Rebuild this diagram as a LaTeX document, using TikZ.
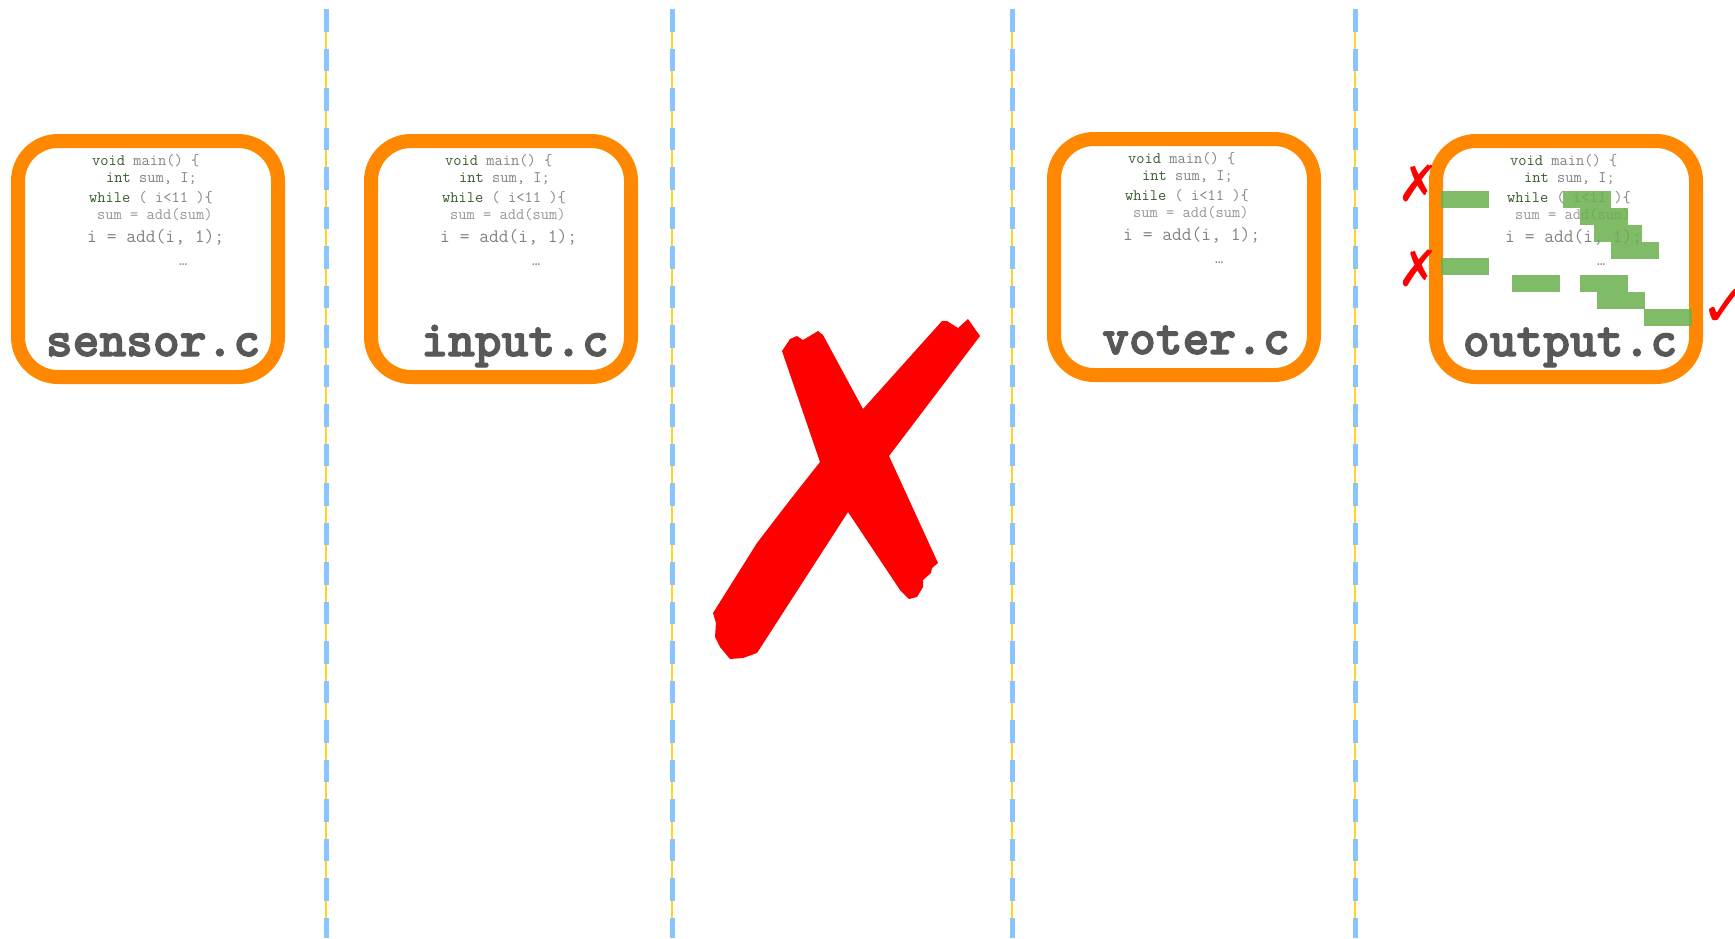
\documentclass[tikz,border=0pt]{standalone}
\usepackage{fontspec}
\newfontfamily\symfont{DejaVu Sans}
\newfontfamily\namefont{lmmonolt10-bold.otf}[FakeBold=2.5]
\definecolor{boxorange}{RGB}{255,136,0}
\definecolor{codegray}{RGB}{130,130,130}
\definecolor{kwgreen}{RGB}{56,92,44}
\definecolor{namegray}{RGB}{88,88,88}
\definecolor{dashblue}{RGB}{138,196,252}
\definecolor{dashyellow}{RGB}{255,212,40}
\definecolor{hitgreen}{RGB}{106,176,76}
\tikzset{
  codebox/.style={draw=boxorange,line width=14pt,rounded corners=40pt},
  srcline/.style={anchor=base west,inner sep=0pt,text=codegray,font=\ttfamily\fontsize{16}{17}\selectfont},
  bigline/.style={srcline,font=\ttfamily\fontsize{19}{20}\selectfont},
  fname/.style={anchor=base,inner sep=0pt,text=namegray,font=\namefont\fontsize{51}{55}\selectfont},
  hitbar/.style={fill=hitgreen,fill opacity=0.85},
  redmark/.style={inner sep=0pt,text=red,font=\symfont\fontsize{50}{50}\selectfont},
  splitline/.style={draw=dashblue,line width=5pt,dash pattern=on 22.5pt off 17pt},
}
\begin{document}
\begin{tikzpicture}[x=1pt,y=-1pt]
  \useasboundingbox (0,0) rectangle (1735,938);
  \foreach \x in {326,672,1012,1355}{
    \draw[dashyellow,line width=1.5pt] (\x,9)--(\x,938);
    \draw[splitline] (\x,9)--(\x,938);
  }
  \foreach \nm/\x/\y/\file/\fx in {sensor/11/134/sensor.c/142,input/364/134/input.c/151,voter/1047/132/voter.c/149,output/1429/134/output.c/141}{
    \draw[codebox] (\x+7,\y+7) rectangle (\x+267,\y+243);
    \node[srcline] (\nm-void) at (\x+81,\y+31) {\textcolor{kwgreen}{void} main() \{};
    \node[srcline] (\nm-int) at (\x+95,\y+48) {\textcolor{kwgreen}{int} sum, I;};
    \node[srcline] (\nm-while) at (\x+78,\y+68) {\textcolor{kwgreen}{while} ( i<11 )\{};
    \node[srcline,text=codegray!85] (\nm-sum) at (\x+86,\y+85) {sum = add(sum)};
    \node[bigline] (\nm-add) at (\x+76,\y+108) {i = add(i, 1);};
    \node[srcline] (\nm-dots) at (\x+168,\y+131) {…};
    \node[fname] (\nm-name) at (\x+\fx,\y+222) {\file};
  }
  \foreach \a/\b in {1441/191,1441/258,1512/275,1563/191,1580/208,1594/225,1611/242,1580/275,1597/292,1644/309}
    \fill[hitbar] (\a,\b) rectangle (\a+48,\b+17);
  \node[redmark] (miss-a) at (1418,183) {✗};
  \node[redmark] (miss-b) at (1418,268) {✗};
  \node[redmark,font=\symfont\fontsize{60}{60}\selectfont] (hit) at (1726,308) {✓};
  \fill[red] (782,351) -- (790,339) -- (797,336) -- (803,340) -- (808,337) -- (818,331) -- (823,335) -- (863,409) -- (942,321) -- (947,321) -- (958,328) -- (968,319) -- (980,336) -- (889,456) -- (938,563) -- (932,568) -- (931,573) -- (923,580) -- (923,587) -- (917,597) -- (909,599) -- (900,590) -- (848,512) -- (757,653) -- (743,658) -- (730,659) -- (720,647) -- (715,637) -- (716,623) -- (713,613) -- (757,543) -- (790,500) -- (820,462) -- cycle;
\end{tikzpicture}
\end{document}
